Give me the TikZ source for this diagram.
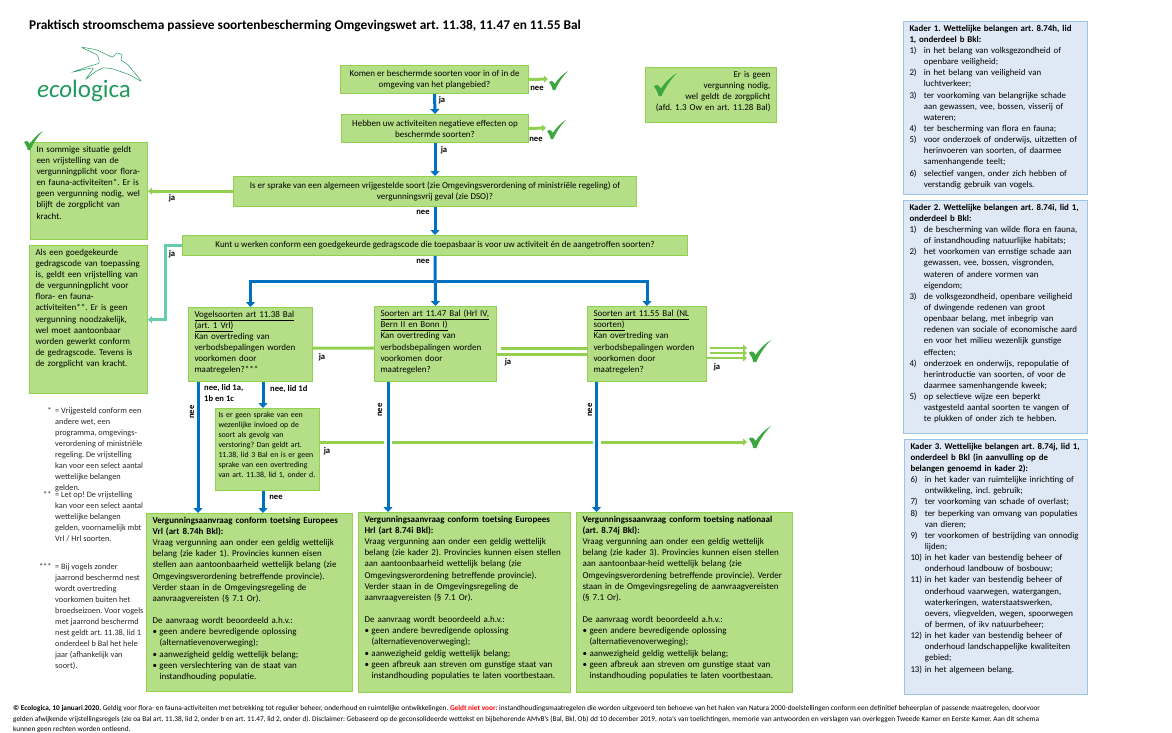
\documentclass[tikz,border=0pt]{standalone}
\usepackage{fontspec}
\setmainfont{Carlito}
\frenchspacing
\usetikzlibrary{arrows.meta}
\definecolor{groenvlak}{HTML}{B5DF87}
\definecolor{groenrand}{HTML}{92D050}
\definecolor{blauwvlak}{HTML}{DFE9F6}
\definecolor{blauwrand}{HTML}{9DC3E6}
\definecolor{blauwlijn}{HTML}{0070C0}
\definecolor{tealgroen}{HTML}{66CDAA}
\definecolor{vinkgroen}{HTML}{3CA73F}
\definecolor{logogroen}{HTML}{1F9A5C}
\newcommand{\bol}{\makebox[7pt][l]{•}}
\newcommand{\insp}{\hspace*{7pt}}
\newcommand{\nr}[1]{\makebox[14.4pt][l]{#1}}
\newcommand{\nrin}{\hspace*{14.4pt}}
\tikzset{
    tekst/.style={font=\fontsize{9}{11.14}\selectfont},
    groen/.style={tekst,draw=groenrand,fill=groenvlak,line width=1pt,anchor=north west,inner xsep=6,inner ysep=3.5},
    vraag/.style 2 args={groen,align=center,minimum width=#1,minimum height=#2},
    blok/.style 2 args={groen,align=left,text width={#1-12},text depth={#2-14}},
    kader/.style 2 args={blok={#1}{#2},draw=blauwrand,fill=blauwvlak,font=\fontsize{8.85}{11.14}\selectfont},
    noot/.style={anchor=north west,align=left,inner sep=0pt,text=black!85,font=\fontsize{8.3}{11}\selectfont},
    antw/.style={font=\fontsize{8.6}{11}\selectfont\bfseries,inner sep=0pt},
    ja/.style={draw=blauwlijn,line width=3pt,-{Triangle[width=9pt,length=5pt]}},
    nee/.style={draw=groenrand,line width=3pt},
    neepijl/.style={nee,-{Triangle[width=7pt,length=4pt]}},
    vink/.pic={\fill[vinkgroen] (0,.58) .. controls (.1,.48) and (.2,.5) .. (.3,.68) .. controls (.5,.38) and (.75,.15) .. (1,0) .. controls (.75,.25) and (.5,.6) .. (.33,1) -- (.2,1) .. controls (.15,.8) and (.08,.7) .. (0,.58) -- cycle;}
}
\begin{document}
\begin{tikzpicture}[x=1pt,y=-1pt]
\useasboundingbox (0,0) rectangle (1172,732);

\node[font=\fontsize{13.35}{15}\selectfont\bfseries,anchor=west,inner sep=0pt] (titel) at (29,26) {Praktisch stroomschema passieve soortenbescherming Omgevingswet art. 11.38, 11.47 en 11.55 Bal};

\draw[logogroen,line width=.5pt] plot[smooth cycle,tension=.3] coordinates {(82,47.5) (97,50) (112,57) (117,53) (122,55) (121,60) (128,65) (141,81) (130,75) (113,69) (103,68) (95,72) (86,79) (93,68) (73,72) (90,66) (99,63) (97,55)};
\node[font=\fontsize{25}{30}\selectfont,text=logogroen,anchor=base west,inner sep=0pt] (logo) at (37,97) {\textit{eco}logica};

\node[vraag={188}{28}] (komen) at (340,65) {Komen er beschermde soorten voor in of in de\\omgeving van het plangebied?};
\node[vraag={187}{28}] (hebben) at (341,114) {Hebben uw activiteiten negatieve effecten op\\beschermde soorten?};
\node[vraag={403}{30}] (sprake) at (233,176) {Is er sprake van een algemeen vrijgestelde soort (zie Omgevingsverordening of ministriële regeling) of\\vergunningsvrij geval (zie DSO)?};
\node[vraag={505}{20}] (code) at (182,235) {Kunt u werken conform een goedgekeurde gedragscode die toepasbaar is voor uw activiteit én de aangetroffen soorten?};

\node[blok={131}{56},align=right] (geen) at (645,67) {Er is geen\\vergunning nodig,\\wel geldt de zorgplicht\\(afd. 1.3 Ow en art. 11.28 Bal)};
\node[blok={117}{98}] (sommige) at (30,142) {In sommige situatie geldt\\een vrijstelling van de\\vergunningplicht voor flora-\\en fauna-activiteiten*. Er is\\geen vergunning nodig, wel\\blijft de zorgplicht van\\kracht.};
\node[blok={118}{149}] (als) at (29,245) {Als een goedgekeurde\\gedragscode van toepassing\\is, geldt een vrijstelling van\\de vergunningplicht voor\\flora- en fauna-\\activiteiten**. Er is geen\\vergunning noodzakelijk,\\wel moet aantoonbaar\\worden gewerkt conform\\de gedragscode. Tevens is\\de zorgplicht van kracht.};

\node[blok={124}{75}] (vogel) at (188,307) {\underline{Vogelsoorten art 11.38 Bal}\\\underline{(art. 1 Vrl)}\\Kan overtreding van\\verbodsbepalingen worden\\voorkomen door\\maatregelen?***};
\node[blok={122}{75}] (hrl) at (374,306) {\underline{Soorten art 11.47 Bal (Hrl IV,}\\\underline{Bern II en Bonn I)}\\Kan overtreding van\\verbodsbepalingen worden\\voorkomen door\\maatregelen?};
\node[blok={119}{75}] (nl) at (587,306) {\underline{Soorten art 11.55 Bal (NL}\\\underline{soorten)}\\Kan overtreding van\\verbodsbepalingen worden\\voorkomen door\\maatregelen?};
\node[blok={110}{84},font=\fontsize{7.85}{10}\selectfont,inner xsep=3] (invloed) at (215,408) {Is er geen sprake van een\\wezenlijke invloed op de\\soort als gevolg van\\verstoring? Dan geldt art.\\11.38, lid 3 Bal en is er geen\\sprake van een overtreding\\van art. 11.38, lid 1, onder d.};

\node[blok={206}{179}] (aanvrl) at (146,513) {\textbf{Vergunningsaanvraag conform toetsing Europees}\\\textbf{Vrl (art 8.74h Bkl):}\\Vraag vergunning aan onder een geldig wettelijk\\belang (zie kader 1). Provincies kunnen eisen\\stellen aan aantoonbaarheid wettelijk belang (zie\\Omgevingsverordening betreffende provincie).\\Verder staan in de Omgevingsregeling de\\aanvraagvereisten (§ 7.1 Or).\\[\baselineskip]De aanvraag wordt beoordeeld a.h.v.:\\\bol geen andere bevredigende oplossing\\\insp(alternatievenoverweging);\\\bol aanwezigheid geldig wettelijk belang;\\\bol geen verslechtering van de staat van\\\insp instandhouding populatie.};
\node[blok={212}{181}] (aanhrl) at (358,512) {\textbf{Vergunningsaanvraag conform toetsing Europees}\\\textbf{Hrl (art 8.74i Bkl):}\\Vraag vergunning aan onder een geldig wettelijk\\belang (zie kader 2). Provincies kunnen eisen stellen\\aan aantoonbaarheid wettelijk belang (zie\\Omgevingsverordening betreffende provincie).\\Verder staan in de Omgevingsregeling de\\aanvraagvereisten (§ 7.1 Or).\\[\baselineskip]De aanvraag wordt beoordeeld a.h.v.:\\\bol geen andere bevredigende oplossing\\\insp(alternatievenoverweging);\\\bol aanwezigheid geldig wettelijk belang;\\\bol geen afbreuk aan streven om gunstige staat van\\\insp instandhouding populaties te laten voortbestaan.};
\node[blok={216}{181}] (aannl) at (576,512) {\textbf{Vergunningssaanvraag conform toetsing nationaal}\\\textbf{(art. 8.74j Bkl):}\\Vraag vergunning aan onder een geldig wettelijk\\belang (zie kader 3). Provincies kunnen eisen stellen\\aan aantoonbaar-heid wettelijk belang (zie\\Omgevingsverordening betreffende provincie). Verder\\staan in de Omgevingsregeling de aanvraagvereisten\\(§ 7.1 Or).\\[\baselineskip]De aanvraag wordt beoordeeld a.h.v.:\\\bol geen andere bevredigende oplossing\\\insp(alternatievenoverweging);\\\bol aanwezigheid geldig wettelijk belang;\\\bol geen afbreuk aan streven om gunstige staat van\\\insp instandhouding populaties te laten voortbestaan.};

\node[kader={184}{174}] (kader1) at (903,21) {\textbf{Kader 1. Wettelijke belangen art. 8.74h, lid}\\\textbf{1, onderdeel b Bkl:}\\\nr{1)}in het belang van volksgezondheid of\\\nrin openbare veiligheid;\\\nr{2)}in het belang van veiligheid van\\\nrin luchtverkeer;\\\nr{3)}ter voorkoming van belangrijke schade\\\nrin aan gewassen, vee, bossen, visserij of\\\nrin wateren;\\\nr{4)}ter bescherming van flora en fauna;\\\nr{5)}voor onderzoek of onderwijs, uitzetten of\\\nrin herinvoeren van soorten, of daarmee\\\nrin samenhangende teelt;\\\nr{6)}selectief vangen, onder zich hebben of\\\nrin verstandig gebruik van vogels.};
\node[kader={184}{234}] (kader2) at (903,200) {\textbf{Kader 2. Wettelijke belangen art. 8.74i, lid 1,}\\\textbf{onderdeel b Bkl:}\\\nr{1)}de bescherming van wilde flora en fauna,\\\nrin of instandhouding natuurlijke habitats;\\\nr{2)}het voorkomen van ernstige schade aan\\\nrin gewassen, vee, bossen, visgronden,\\\nrin wateren of andere vormen van\\\nrin eigendom;\\\nr{3)}de volksgezondheid, openbare veiligheid\\\nrin of dwingende redenen van groot\\\nrin openbaar belang, met inbegrip van\\\nrin redenen van sociale of economische aard\\\nrin en voor het milieu wezenlijk gunstige\\\nrin effecten;\\\nr{4)}onderzoek en onderwijs, repopulatie of\\\nrin herintroductie van soorten, of voor de\\\nrin daarmee samenhangende kweek;\\\nr{5)}op selectieve wijze een beperkt\\\nrin vastgesteld aantal soorten te vangen of\\\nrin te plukken of onder zich te hebben.};
\node[kader={183}{256}] (kader3) at (904,439) {\textbf{Kader 3. Wettelijke belangen art. 8.74j, lid 1,}\\\textbf{onderdeel b Bkl (in aanvulling op de}\\\textbf{belangen genoemd in kader 2):}\\\nr{6)}in het kader van ruimtelijke inrichting of\\\nrin ontwikkeling, incl. gebruik;\\\nr{7)}ter voorkoming van schade of overlast;\\\nr{8)}ter beperking van omvang van populaties\\\nrin van dieren;\\\nr{9)}ter voorkomen of bestrijding van onnodig\\\nrin lijden;\\\nr{10)}in het kader van bestendig beheer of\\\nrin onderhoud landbouw of bosbouw;\\\nr{11)}in het kader van bestendig beheer of\\\nrin onderhoud vaarwegen, watergangen,\\\nrin waterkeringen, waterstaatswerken,\\\nrin oevers, vliegvelden, wegen, spoorwegen\\\nrin of bermen, of ikv natuurbeheer;\\\nr{12)}in het kader van bestendig beheer of\\\nrin onderhoud landschappelijke kwaliteiten\\\nrin gebied;\\\nr{13)}in het algemeen belang.};

\node[noot] (noot1) at (55,407) {\llap{*\ \ }= Vrijgesteld conform een\\andere wet, een\\programma, omgevings-\\verordening of ministriële\\regeling. De vrijstelling\\kan voor een select aantal\\wettelijke belangen\\gelden.};
\node[noot] (noot2) at (55,491) {\llap{**\ \ }= Let op! De vrijstelling\\kan voor een select aantal\\wettelijke belangen\\gelden, voornamelijk mbt\\Vrl / Hrl soorten.};
\node[noot] (noot3) at (55,563) {\llap{***\ \ }= Bij vogels zonder\\jaarrond beschermd nest\\wordt overtreding\\voorkomen buiten het\\broedseizoen. Voor vogels\\met jaarrond beschermd\\nest geldt art. 11.38, lid 1\\onderdeel b Bal het hele\\jaar (afhankelijk van\\soort).};

\node[font=\fontsize{7.3}{10.7}\selectfont,anchor=north west,align=left,inner sep=0pt] (voet) at (13,705) {\textbf{© Ecologica, 10 januari 2020.} Geldig voor flora- en fauna-activiteiten met betrekking tot regulier beheer, onderhoud en ruimtelijke ontwikkelingen. \textcolor{red}{\textbf{Geldt niet voor:}} instandhoudingsmaatregelen die worden uitgevoerd ten behoeve van het halen van Natura 2000-doelstellingen conform een definitief beheerplan of passende maatregelen, doorvoor\\gelden afwijkende vrijstellingsregels (zie oa Bal art. 11.38, lid 2, onder b en art. 11.47, lid 2, onder d). Disclaimer: Gebaseerd op de geconsolideerde wettekst en bijbehorende AMvB's (Bal, Bkl, Ob) dd 10 december 2019, nota's van toelichtingen, memorie van antwoorden en verslagen van overleggen Tweede Kamer en Eerste Kamer. Aan dit schema\\kunnen geen rechten worden ontleend.};

\coordinate (tak) at (435,281);
\coordinate (hoek) at (165,245);
\coordinate (vinkA) at (548,79);
\coordinate (vinkB) at (546,128);
\coordinate (vinkC) at (747,348);
\coordinate (vinkD) at (747,353);
\coordinate (vinkE) at (747,358);
\coordinate (vinkF) at (747,442);
\coordinate (kruisA) at (388,442);
\coordinate (kruisB) at (596.5,442);

\draw[ja] (komen.south) -- (hebben.north);
\draw[ja] (hebben.south) -- (sprake.north);
\draw[ja] (sprake.south) -- (code.north);
\draw[ja] (code.south) -- (hrl.north);
\draw[ja] (tak) -| (vogel.north);
\draw[ja] (tak) -| (nl.north);
\draw[ja] ([xshift=10]vogel.south west) -- ([xshift=10]vogel.south west |- aanvrl.north);
\draw[ja] ([xshift=75]vogel.south west) -- ([xshift=75]vogel.south west |- invloed.north);
\draw[ja] ([xshift=48]invloed.south west) -- ([xshift=48]invloed.south west |- aanvrl.north);
\draw[ja] ([xshift=14]hrl.south west) -- ([xshift=14]hrl.south west |- aanhrl.north);
\draw[ja] ([xshift=9.5]nl.south west) -- ([xshift=9.5]nl.south west |- aannl.north);

\draw[neepijl] (komen.east) -- (vinkA);
\draw[neepijl] (hebben.east) -- (vinkB);
\draw[neepijl] (sprake.west |- sommige.east) -- (sommige.east);
\draw[draw=tealgroen,line width=3pt,-{Triangle[width=7pt,length=4pt]}] (code.west) -- (code.west -| hoek) |- (als.east);
\draw[nee] ([yshift=-3.5]vogel.east) -- (hrl.west |- vinkC);
\draw[nee] ([yshift=-10.5]hrl.east) -- ([yshift=-10.5]nl.west);
\draw[nee] ([xshift=4,yshift=-4.5]hrl.east) -- ([yshift=-4.5]nl.west);
\draw[neepijl,line width=2pt] ([xshift=3]nl.east |- vinkC) -- (vinkC);
\draw[neepijl,line width=2pt] ([xshift=3]nl.east |- vinkD) -- (vinkD);
\draw[neepijl,line width=2pt] (nl.east |- vinkE) -- (vinkE);
\draw[nee] (invloed.east |- vinkF) -- ([xshift=-4]kruisA);
\draw[nee] ([xshift=4]kruisA) -- ([xshift=-4]kruisB);
\draw[neepijl] ([xshift=4]kruisB) -- (vinkF);

\pic[scale=19] at (549,71) {vink};
\pic[scale=19] at (547,120) {vink};
\pic[scale=23] at (654,73) {vink};
\pic[scale=19] at (24,131) {vink};
\pic[scale=22] at (749,340) {vink};
\pic[scale=22] at (749,426) {vink};

\node[antw] (jaA) at (442,100) {ja};
\node[antw] (neeA) at (537,88) {nee};
\node[antw] (jaB) at (444,150) {ja};
\node[antw] (neeB) at (536,139) {nee};
\node[antw] (neeC) at (423,212) {nee};
\node[antw] (jaC) at (172,198) {ja};
\node[antw] (jaD) at (172,254) {ja};
\node[antw] (neeD) at (423,261) {nee};
\node[antw] (jaE) at (322,357) {ja};
\node[antw] (jaF) at (508,362) {ja};
\node[antw] (jaG) at (717,367) {ja};
\node[antw] (jaH) at (327,451) {ja};
\node[antw,anchor=north west,align=left] (neeE) at (204,384.5) {nee, lid 1a,\\1b en 1c};
\node[antw,anchor=west] (neeF) at (270,389) {nee, lid 1d};
\node[antw] (neeG) at (276,497) {nee};
\node[antw,rotate=90] (neeH) at (192,412) {nee};
\node[antw,rotate=90] (neeI) at (380,410) {nee};
\node[antw,rotate=90] (neeJ) at (590,410) {nee};
\end{tikzpicture}
\end{document}
